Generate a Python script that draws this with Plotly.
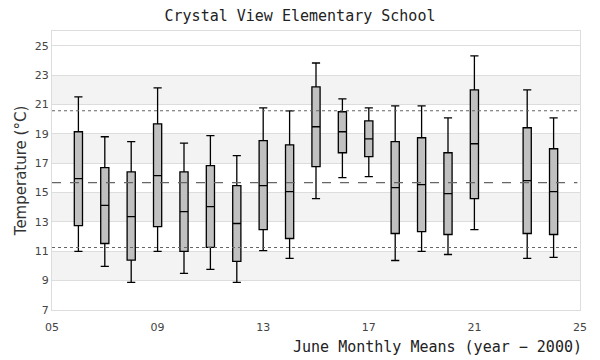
import plotly.graph_objects as go

years = [6, 7, 8, 9, 10, 11, 12, 13, 14, 15, 16, 17, 18, 19, 20, 21, 23, 24]
lower = [10.99, 9.97, 8.88, 10.99, 9.49, 9.76, 8.88, 11.05, 10.51, 14.59, 16.01, 16.08, 10.37, 10.99, 10.78, 12.48, 10.51, 10.58]
q1 = [12.75, 11.53, 10.40, 12.68, 10.99, 11.26, 10.31, 12.48, 11.87, 16.76, 17.71, 17.44, 12.21, 12.34, 12.14, 14.59, 12.21, 12.14]
median = [15.94, 14.13, 13.36, 16.15, 13.70, 14.04, 12.89, 15.47, 15.06, 19.48, 19.14, 18.66, 15.33, 15.54, 14.93, 18.32, 15.81, 15.06]
q3 = [19.14, 16.69, 16.40, 19.68, 16.40, 16.83, 15.47, 18.53, 18.25, 22.19, 20.50, 19.88, 18.46, 18.73, 17.71, 21.99, 19.41, 17.98]
upper = [21.52, 18.80, 18.46, 22.13, 18.37, 18.87, 17.51, 20.77, 20.56, 23.82, 21.38, 20.77, 20.90, 20.90, 20.09, 24.30, 21.99, 20.09]

mean_line = 15.67
upper_ref = 20.57
lower_ref = 11.26

x_ticks = [5, 9, 13, 17, 21, 25]
x_tick_labels = ["05", "09", "13", "17", "21", "25"]
band_starts = [9, 13, 17, 21]

mono = "DejaVu Sans Mono, Liberation Mono, monospace"
sans = "DejaVu Sans, Verdana, sans-serif"

W, H = 592, 352  # page body adds an 8px margin, so the figure spans 8..600 x 8..360

fig = go.Figure()
fig.add_trace(go.Box(
    x=years, q1=q1, median=median, q3=q3,
    lowerfence=lower, upperfence=upper,
    width=0.31, whiskerwidth=1,
    fillcolor="#c0c0c0", line=dict(color="black", width=1.3),
    boxpoints=False, hoverinfo="skip", showlegend=False,
))

shapes = []
for b in band_starts:
    shapes.append(dict(type="rect", xref="paper", yref="y", x0=0, x1=1, y0=b, y1=b + 2,
                       fillcolor="#f3f3f3", line=dict(width=0), layer="below"))
shapes.append(dict(type="line", xref="paper", yref="y", x0=0, x1=0.995, y0=mean_line, y1=mean_line,
                   line=dict(color="#666666", width=1.3, dash="dash"), layer="above"))
for v in (upper_ref, lower_ref):
    shapes.append(dict(type="line", xref="paper", yref="y", x0=0, x1=1, y0=v, y1=v,
                       line=dict(color="#666666", width=1.1, dash="dot"), layer="above"))

fig.update_layout(
    width=W, height=H,
    margin=dict(l=42, r=20, t=23, b=50),
    paper_bgcolor="white", plot_bgcolor="white",
    shapes=shapes,
    title=dict(text="Crystal View Elementary School", x=292 / W, xanchor="center",
               y=1 - 8 / H, yanchor="middle", yref="container",
               font=dict(family=mono, size=15, color="#222222")),
    xaxis=dict(range=[5, 25], tickvals=x_ticks, ticktext=x_tick_labels,
               showgrid=False, zeroline=False, showline=True, mirror=True,
               linecolor="#dddddd", linewidth=1, ticks="outside", ticklen=7,
               tickcolor="rgba(0,0,0,0)",
               tickfont=dict(family=sans, size=11, color="#444444")),
    yaxis=dict(range=[7, 26], tick0=7, dtick=2, showgrid=True, gridcolor="#dddddd",
               gridwidth=1, zeroline=False, showline=True, mirror=True,
               linecolor="#dddddd", linewidth=1, ticks="",
               tickfont=dict(family=sans, size=11, color="#444444"),
               title=dict(text="Temperature (°C)", standoff=4,
                          font=dict(family=sans, size=15, color="#333333"))),
    annotations=[dict(text="June Monthly Means (year − 2000)", xref="paper", yref="paper",
                      x=1, y=0, xanchor="right", yanchor="middle", yshift=-37, xshift=4,
                      showarrow=False,
                      font=dict(family=mono, size=15, color="#222222"))],
)

fig.write_html("out.html")
